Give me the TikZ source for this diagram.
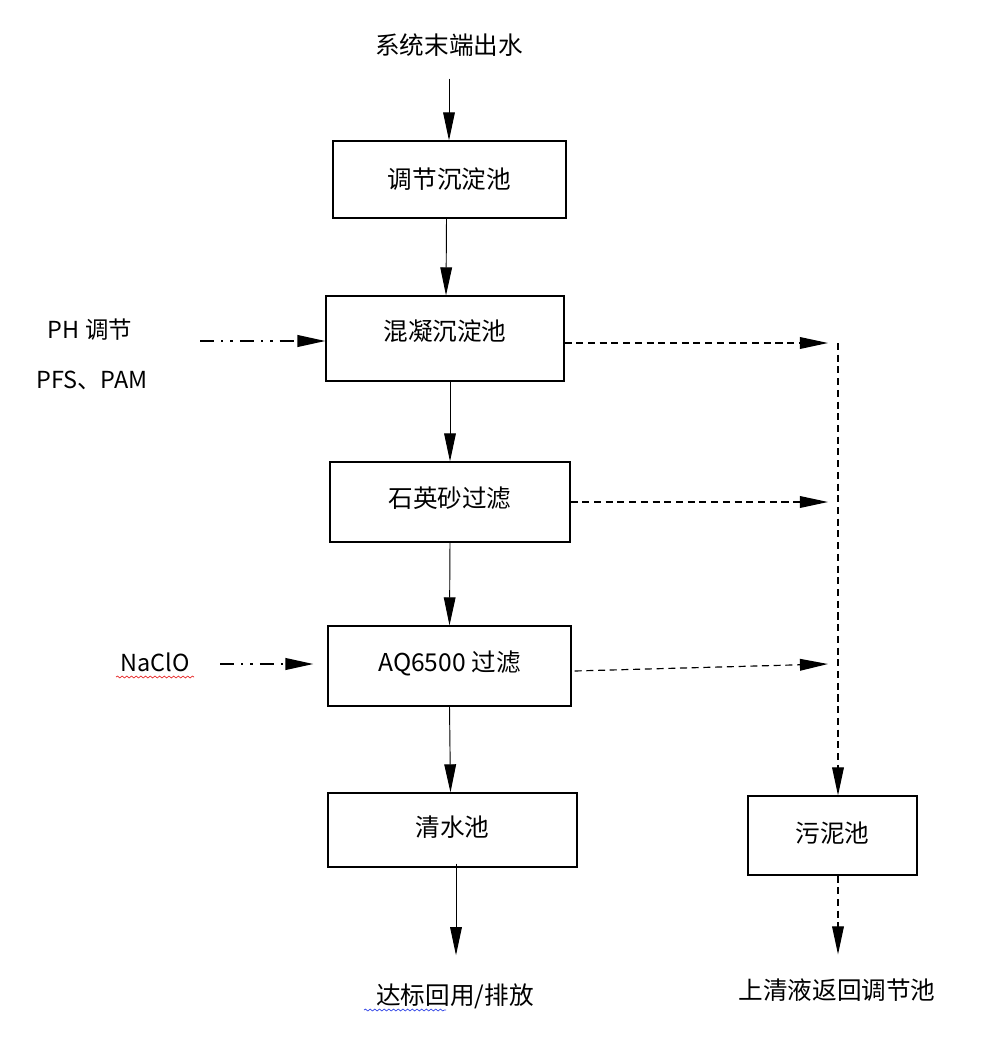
\documentclass[tikz,border=0pt]{standalone}
\usepackage{fontspec}
\setmainfont{Liberation Sans}
\newfontfamily\cjk{Noto Sans CJK SC}
\usetikzlibrary{arrows.meta,decorations.pathmorphing}
\definecolor{wavered}{RGB}{230,40,40}
\definecolor{waveblue}{RGB}{50,70,230}
\tikzset{
  box/.style={draw, line width=1pt, minimum width=#1*0.03cm, inner sep=0pt, font=\cjk\fontsize{21}{25}\selectfont},
  lbl/.style={inner sep=0pt, font=\cjk\fontsize{21}{25}\selectfont},
  tip/.style={-{Triangle[length=24pt,width=10pt]}, line width=0.8pt},
  dashtip/.style={tip, dash pattern=on 6pt off 4pt, line width=1pt},
  dotdash/.style={tip, dash pattern=on 12pt off 6pt on 2pt off 6pt on 2pt off 6pt, line width=1.6pt},
  wave/.style={decorate, decoration={snake, amplitude=0.8pt, segment length=4pt}, line width=0.6pt}
}
\begin{document}
\begin{tikzpicture}[x=0.03cm,y=-0.03cm]

  % Bounding box of the scheme
  \useasboundingbox (0,0) rectangle (989,1039);

  % Boites
  \node[box=233, minimum height=77*0.03cm] (regul) at (449.5,179.5) {调节沉淀池};
  \node[box=238, minimum height=85*0.03cm, text depth=14pt] (coag) at (445,338.5) {混凝沉淀池};
  \node[box=240, minimum height=80*0.03cm, text depth=8pt] (sable) at (450,502) {石英砂过滤};
  \node[box=243, minimum height=80*0.03cm, text depth=8pt] (aq) at (449.5,666) {AQ6500 过滤};
  \node[box=249, minimum height=74*0.03cm, text depth=6pt] (clair) at (452.5,830) {清水池};
  \node[box=169, minimum height=79*0.03cm, text depth=6pt] (boue) at (832.5,835.5) {污泥池};

  % Textes
  \node[lbl] (entree) at (449,45) {系统末端出水};
  \node[lbl] (sortie) at (455,996) {达标回用/排放};
  \node[lbl] (retour) at (837,990) {上清液返回调节池};
  \node[lbl] (ph) at (90,330) {\fontsize{20}{24}\selectfont PH {\cjk 调节}};
  \node[lbl] (pfs) at (92,380) {\fontsize{20}{24}\selectfont PFS{\cjk 、}PAM};
  \node[lbl] (nacl) at (155,662) {\fontsize{20}{24}\selectfont NaClO};
  \draw[wave, wavered] (116,677) -- (194,677);
  \draw[wave, waveblue] (364,1010) -- (446,1010);

  % Points pour les fleches
  \coordinate (p1) at (828,343);
  \coordinate (p2) at (828,502);
  \coordinate (p3) at (828,664);
  \coordinate (v1) at (838,343);
  \coordinate (a1) at (200,341);
  \coordinate (a2) at (220,664);

  % Fleches pleines
  \draw[tip] ([yshift=-22*0.03cm]entree.south) -- (entree.south |- regul.north);
  \draw[tip] ([xshift=-3*0.03cm]regul.south) -- ([xshift=1*0.03cm]coag.north);
  \draw[tip] ([xshift=5*0.03cm]coag.south) -- (sable.north);
  \draw[tip] (sable.south) -- (aq.north);
  \draw[tip] (aq.south) -- ([xshift=-2*0.03cm]clair.north);
  \draw[tip] ([xshift=3.5*0.03cm,yshift=4*0.03cm]clair.south) -- ([yshift=28*0.03cm]sortie.north -| {456,0});

  % Fleches pointillees
  \draw[dashtip] (coag.east |- p1) -- (p1);
  \draw[dashtip] (sable.east) -- (p2);
  \draw[dashtip] ([xshift=3*0.03cm]aq.east |- {0,671}) -- (p3);
  \draw[dashtip] (v1) -- ([xshift=5.5*0.03cm]boue.north);
  \draw[dashtip] ([xshift=5.5*0.03cm]boue.south) -- ([xshift=1*0.03cm,yshift=24*0.03cm]retour.north);
  \draw[dotdash] (a1) -- (coag.west |- a1);
  \draw[dotdash] (a2) -- ([xshift=-14*0.03cm]aq.west |- a2);

\end{tikzpicture}
\end{document}
